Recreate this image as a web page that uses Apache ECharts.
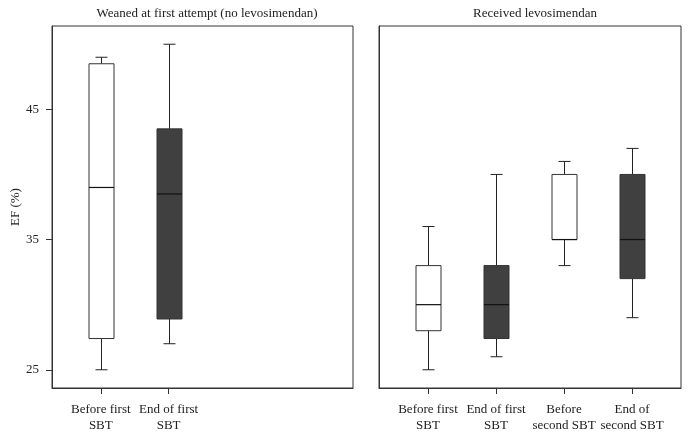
<!DOCTYPE html>
<html>
<head>
<meta charset="utf-8">
<script src="https://cdn.jsdelivr.net/npm/echarts@6/dist/echarts.min.js"></script>
<style>
  html, body { margin: 0; padding: 0; background: #fff; }
  #chart { width: 689px; height: 437px; }
</style>
</head>
<body>
<div id="chart"></div>
<script>
// categories shared by both panels
const categories = ['Before first\nSBT', 'End of first\nSBT', 'Before\nsecond SBT', 'End of\nsecond SBT'];
const panelTitles = ['Weaned at first attempt (no levosimendan)', 'Received levosimendan'];
const yTicks = [25, 35, 45];

// [min, Q1, median, Q3, max]
const weanedStats = [
  [25, 27.4, 39, 48.5, 49],
  [27, 28.9, 38.5, 43.5, 50]
];
const levoStats = [
  [25, 28, 30, 33, 36],
  [26, 27.4, 30, 33, 40],
  [33, 35, 35, 40, 41],
  [29, 32, 35, 40, 42]
];
// white for "before", dark for "end of"
const boxFills = ['#ffffff', '#404040', '#ffffff', '#404040'];

const FONT = '"Liberation Serif", "DejaVu Serif", serif';
const INK = '#222';

const chart = echarts.init(document.getElementById('chart'));

function toData(stats) {
  return stats.map((s, i) => [i + 1].concat(s).concat([i]));
}

function renderBox(params, api) {
  const x = api.value(0);
  const half = 12.5, cap = 6;
  const pMin = api.coord([x, api.value(1)]);
  const pQ1 = api.coord([x, api.value(2)]);
  const pMed = api.coord([x, api.value(3)]);
  const pQ3 = api.coord([x, api.value(4)]);
  const pMax = api.coord([x, api.value(5)]);
  const cx = Math.round(pMin[0]) + 0.5;
  const fill = boxFills[api.value(6)];
  const line = { stroke: INK, lineWidth: 1 };
  return {
    type: 'group',
    children: [
      { type: 'line', shape: { x1: cx, y1: pQ1[1], x2: cx, y2: pMin[1] }, style: line },
      { type: 'line', shape: { x1: cx, y1: pQ3[1], x2: cx, y2: pMax[1] }, style: line },
      { type: 'line', shape: { x1: cx - cap, y1: pMin[1], x2: cx + cap, y2: pMin[1] }, style: line },
      { type: 'line', shape: { x1: cx - cap, y1: pMax[1], x2: cx + cap, y2: pMax[1] }, style: line },
      { type: 'rect', shape: { x: cx - half, y: pQ3[1], width: half * 2, height: pQ1[1] - pQ3[1] },
        style: { fill: fill, stroke: '#333', lineWidth: 1 } },
      { type: 'line', shape: { x1: cx - half, y1: pMed[1], x2: cx + half, y2: pMed[1] },
        style: { stroke: '#111', lineWidth: 1.2 } }
    ]
  };
}

function xAxisFor(gridIndex, count) {
  const ticks = categories.slice(0, count).map((c, i) => i + 1);
  return {
    type: 'value',
    gridIndex: gridIndex,
    min: 0.28,
    max: 4.72,
    splitLine: { show: false },
    axisLine: { show: true, lineStyle: { color: '#333', width: 1 } },
    axisTick: { show: true, length: 6, customValues: ticks, lineStyle: { color: '#333' } },
    axisLabel: {
      customValues: ticks,
      formatter: v => categories[Math.round(v) - 1],
      fontFamily: FONT, fontSize: 13, color: INK, lineHeight: 16, margin: 14
    }
  };
}

function yAxisFor(gridIndex, showLabels) {
  return {
    type: 'value',
    gridIndex: gridIndex,
    min: 23.6,
    max: 51.4,
    name: showLabels ? 'EF (%)' : '',
    nameLocation: 'middle',
    nameGap: 29,
    nameRotate: 90,
    nameTextStyle: { fontFamily: FONT, fontSize: 13, color: INK },
    splitLine: { show: false },
    axisLine: { show: true, lineStyle: { color: '#333', width: 1 } },
    axisTick: { show: showLabels, length: 6, customValues: yTicks, lineStyle: { color: '#333' } },
    axisLabel: {
      show: showLabels,
      customValues: yTicks,
      fontFamily: FONT, fontSize: 13, color: INK, margin: 13
    }
  };
}

const option = {
  animation: false,
  backgroundColor: '#fff',
  title: [
    { text: panelTitles[0], left: 202, top: 2, textAlign: 'center',
      textStyle: { fontFamily: FONT, fontSize: 13, fontWeight: 'normal', color: INK } },
    { text: panelTitles[1], left: 530, top: 2, textAlign: 'center',
      textStyle: { fontFamily: FONT, fontSize: 13, fontWeight: 'normal', color: INK } }
  ],
  grid: [
    { left: 52, right: 336, top: 26, bottom: 49, show: true, borderColor: '#333', borderWidth: 1 },
    { left: 379, right: 8, top: 26, bottom: 49, show: true, borderColor: '#333', borderWidth: 1 }
  ],
  xAxis: [xAxisFor(0, 2), xAxisFor(1, 4)],
  yAxis: [yAxisFor(0, true), yAxisFor(1, false)],
  series: [
    { type: 'custom', xAxisIndex: 0, yAxisIndex: 0, renderItem: renderBox,
      encode: { x: 0, y: [1, 2, 3, 4, 5] }, data: toData(weanedStats) },
    { type: 'custom', xAxisIndex: 1, yAxisIndex: 1, renderItem: renderBox,
      encode: { x: 0, y: [1, 2, 3, 4, 5] }, data: toData(levoStats) }
  ]
};

chart.setOption(option);
</script>
</body>
</html>
